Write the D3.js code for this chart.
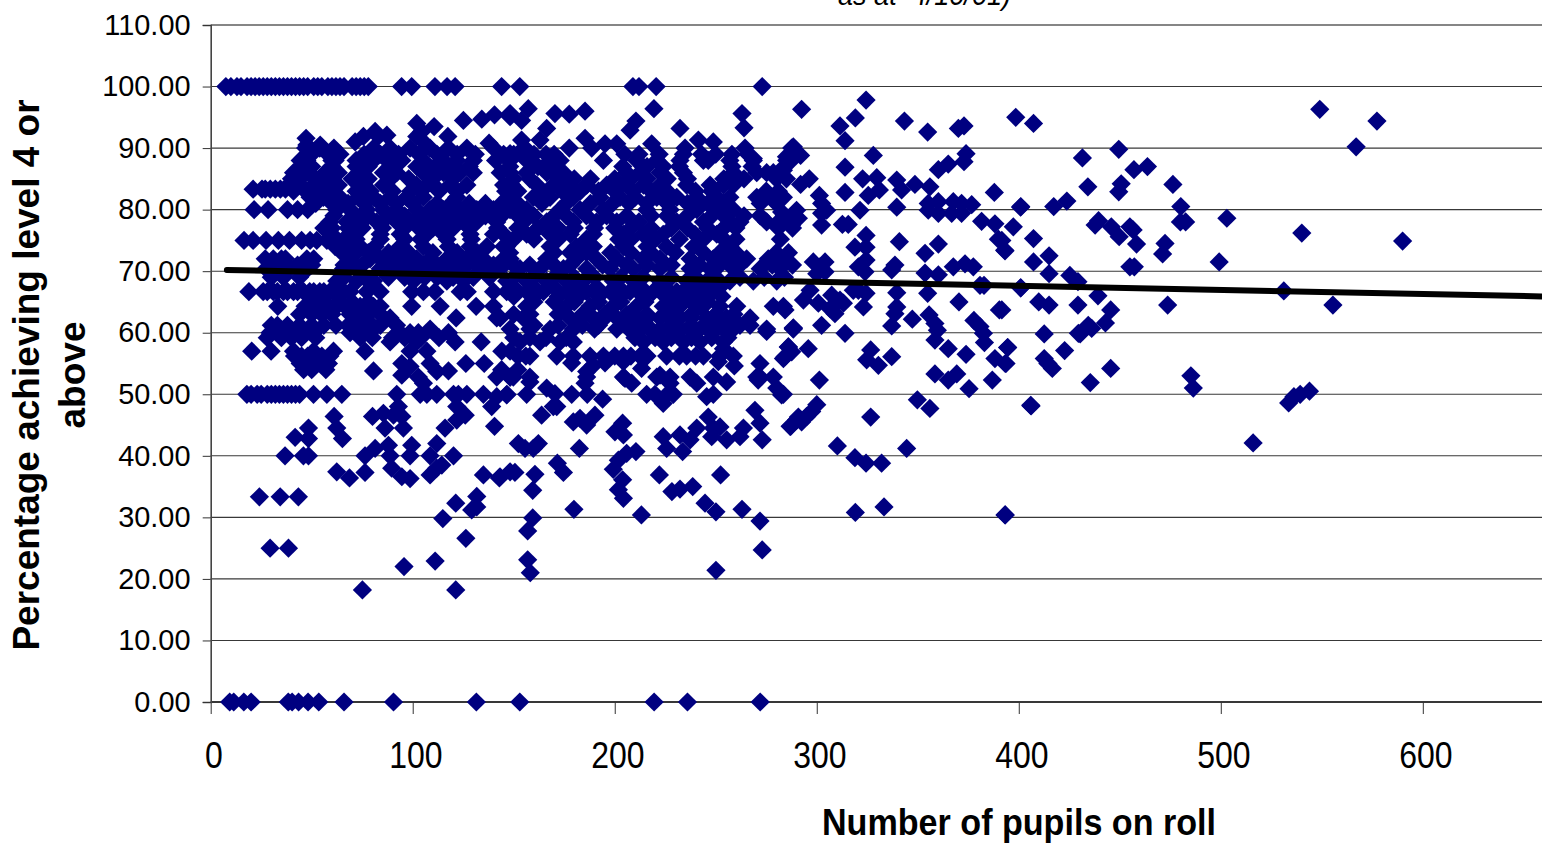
<!DOCTYPE html>
<html>
<head>
<meta charset="utf-8">
<title>Percentage achieving level 4 or above</title>
<script src="https://cdn.jsdelivr.net/npm/d3@7"></script>
<style>
    html, body { margin: 0; background: #fff; overflow: hidden; }
    text { font-family: "Liberation Sans", Arial, sans-serif; fill: #000; white-space: pre; }
</style>
</head>
<body>
<svg id="chart"></svg>
<script>
// Schools sitting on a common percentage: pupils on roll
const at100 = [7.5,10,13,15,18,20,22,24,26,28,30,32,34,36,38,40,42,44,46,48,51,53,55,58,60,62,64,66,70,72,74,76,78,94.5,99.5,111,117,121,144,153,209,212,220.5,273];
const at0 = [9.4,11.4,16.4,20,38.4,40.3,43.5,48.2,53.5,66,90.5,131.5,153,219.5,236,272];
const at83 = [21,25.4,27,29.5,32,34.5,37];
const at80 = [21.5,28.4,38,43,48,62.4,69,77.3,85.5,92.1,102,108.6,115.2,123.5,131.7,140,148.2,156.4,172.9,182.8,194.4,215.8,227.4,240.6,250.5,258.7];
const at75 = [16.5,21,27.4,33.5,39,45,49.2,52.5,57.5,61.5];
const at66 = [18.9,26,28,31,33,36,38,41,43,46,49,51,54,56,59,61,64,66,69,77.3,83.9,99.5,105.3,111,123.5,127,140,146.5,156.4,164.7,176.2,186,197.7,207.6,219.1,230.7,240.6,248.8];
const at60 = [29.4,33.5,37.7,41.8,46.7,50.9,69,73.1,78.9,93.8,98.7,102.8,117.7];
const at50 = [17.9,20,23,25,28,30,32,34,36,38,40,42,44,50.9,57.5,64.9,92.1,103.7,107,111.9,120.2,122.6,126.8,135,146.6,156.4,178.7,186.4,215.8,219.9,229,248.8];
const at40 = [36.8,45.9,48.4,76.4,88.8,98.7,108.6,120.2];
const at33 = [24.1,34.4,43.4];
const at25 = [29.4,38.5];

// Dense middle of the cloud, read band by band
const band90 = [47,54,61,80.6,88.8,98.7,108.6,117.7,126.8,140,155.6,177.5,188.6,234.8,264.5,287.6];
const band89 = [50,58,64,76,84,93,103,112,122,131,145,150,160,166,170,205,212,222,234,243,250,258,266];
const band88 = [44.3,47.6,60,61.6,72,80.6,87.2,94.6,105.3,115.2,121.8,130,141,147.4,148.2,156.4,168,173,194.4,210.9,220.8,232.3,243.9,246.3,257,268.6,285.1];
const band87 = [45,50,60,72,78,90,102,111,119,128,148,162,170,204,214,216,224,232,258,268,284];
const band86 = [41,47.6,56.6,63.2,74,85.5,92.1,105.3,115.2,123.5,130,143.3,148.2,156.4,166.3,174.6,205.9,212.5,222.4,234,258.7,270.3,275.2,278.5,281.8];
const band85 = [40,44,52,59,70,78,89,98,110,120,150,158,172,180,188,200,208,216,226,236,254,264,280,285];
const band84 = [38.5,44.3,50.9,57.5,63.2,75.6,85.5,102,107,110.3,118.5,126.8,145,149,161.4,169.6,177.8,186.1,196,205.9,214.2,222.4,235.6,247.2,253.8,258.7];
const band83 = [41,47,54,60,72,79,90,99,104,113,122,146,152,164,174,183,192,200,209,218,226,240,248,275,281];
const band82 = [49.2,55.8,64,73,80.6,88.8,97,105.3,121.8,148.2,159.7,168,179.5,192.7,202.6,210,220.8,230.7,240.6,250.5,257,270.3,277.7,283.5];
const band81 = [52,60,68,76,84,92,100,112,119,128,136,144,152,164,176,188,199,207,216,226,236,246,254,272,280];
const band79 = [61,72,78,88,96,104,112,120,128,136,144,152,160,170,176,186,196,206,218,226,236,248,254,264,272,284];
const band78 = [59,67.4,72.3,82.2,92.1,98.7,107,115.2,125.1,131.7,141.6,155,166.3,179.5,191,201,212,230.7,243.9,257,262,275.2,281,288.4];
const band77 = [56,60,68,75,85,96,103,110,120,128,142,152,162,172,180,190,200,208,218,228,236,246,254,260,281,288];
const band76 = [60,70.7,83.9,93.8,107,115.2,128.4,140,145,156.4,168,178,189.4,204.3,214,224,239.7,250.5];
const band75 = [66,72,84,96,104,117,129,150,160,172,186,202,208,220,232,244,254,260,282];
const band74 = [61.6,67.4,74,81.4,93.8,105.3,117.7,128.4,136.7,145,146.5,168,181,189.4,204.3,216,225.7,239,257];
const band73 = [65,72,78,88,98,110,122,132,148,170,178,186,198,208,218,230,244,252,260,280,286];
const band72 = [27,31,35,37,47.6,51,69,78.9,83.9,93.8,102,108.6,116.9,126.8,135,145,148.2,166.3,181,191,201,214,222.4,237.3,248.8,257,265.3,276,283.5];
const band71 = [30,33,43,50,66,75,88,97,105,112,122,132,140,150,158,170,178,194,206,216,228,242,252,262,278,288];
const band70 = [27.4,39,48,65.7,72.3,83.9,92.1,102,110.3,116.9,125.1,135,143.3,153.1,163,174.6,186.1,197.7,209.2,222.4,237.3,247.2,258.7,272,281.8];
const band69 = [30,36,44,66,76,88,96,106,112,120,130,138,150,160,170,180,190,203,214,228,240,250,262,274,284];
const band68 = [62.4,72.3,80.6,100.4,116.9,125.1,146.5,156.4,166.3,176.2,184.5,199.3,209.2,222.4,235.6,245.5,257,268.6,280.2];
const band67 = [150,160,170,181,191,202,213,225,236,244,252];
const band66 = [150,160,172,182,192,203,214,225,236,245,253];
const band65 = [50,56,63,70,78,160,170,180,192,203,215,228,238,246];
const band64 = [33.2,46.7,52.5,57.5,62.4,66.5,74,80.6,83.9,99.5,113.6,131.4,140,156.4,176.2,187.8,199.3,210.9,224,232.3,242.2,252,260.4,278.5,283.5];
const band63 = [44,50,55,60,69,72,78,84,150,158,172,184,195,206,216,228,238,250,259];
const band62 = [71.5,76.4,88.8,121.5,141.6,143.3,154.8,177.8,183,189.4,195,201,205,210.9,216,222.4,227,232.3,238,245.5,250,255.4,267];
const band61 = [30,33,38,44,50,56,62,68,74,80,84,92,160,172,184,192,206,216,228,238,246,254,262];
const band60 = [108.6,148.2,158,168,179.5,190,201,207,212.5,217,222.4,227,232.3,237,242.2,246,250.5,254,258.7,275.2,288.4];
const band59 = [28,35,40,45,52,74,80,90,96,104,113,150,158,166,176,210,220,228,238,248,256];
const band58 = [88.8,102,121,133.9,153.1,163,172.9,179.5,214.2,224,234,242.2,253.8];
const band57 = [20.3,29.9,41,50.9,60.8,76.4,98.7,107,144.1,148.2];
const band56 = [41.5,45,48,52,55,59,152,156,158,171.3,179.5,187.8,194.4,200,204.3,208,212.5,216,225.7,232,235.6,240,243.9,252,258.7];
const band55 = [44.3,47.6,55,56.6,58.3,94.6,108.6,126.3,135.4];
const band54 = [46,50,57,144,152];
const band53 = [148.2,158,186.1,204.3,220.8,227.4,237.3,248.8,271.9,270.3,278.5];

// Schools that stand clear of the rows, as [pupils, percentage]
const scattered = [
    [398.5,95],[407.3,94],[431.5,88.4],[449.5,89.8],[457,86.5],[463.7,87],[434.2,83.7],[450.7,84.2],[449.5,82.9],[476.3,84.1],
    [480.2,80.5],[480,78],[482.6,78],[503,78.6],[401,80.5],[417.3,80.5],[423.8,81.4],[397.3,77.2],[407.3,75.3],[415,72.5],
    [407.3,71.5],[415,69.6],[401,67.3],[393,73.4],[391.6,75],[437.8,77.5],[439.5,78.2],[445.8,77.2],[449.7,75.6],[455,77.2],
    [456.6,76.7],[458.3,74.4],[455,70.7],[457.2,70.7],[472.4,74.5],[471.2,72.8],[499.2,71.5],[540.1,76.2],[590,74.9],[549,96.3],
    [577.3,94.4],[567,90.2],[531.2,66.8],[555.5,64.5],[473.7,64.5],[425.3,69.3],[429.3,68.3],[439.2,66],[409.9,65],[415,64.5],
    [429.3,64.5],[445.5,63.7],[442.9,61.6],[391.6,63.7],[434.4,61.2],[436.1,60.7],[430.4,59.8],[412.6,59.8],[394.5,57.6],[393.3,55],
    [412.6,55.8],[416.6,54.2],[414.4,55],[422.7,57.1],[445.5,54.2],[435.4,51.9],[485.2,53],[486.4,51],[406.1,48.1],[533.6,48.6],
    [536.2,49.6],[539.3,50],[543.9,50.5],[516,42.1],[393.3,30.4],
    [292.5,96.3],[324.4,97.8],[311.5,93.6],[319.1,94.9],[314,91.2],[343.4,94.4],[354.9,92.6],[370.1,93.2],[372.9,93.6],
    [288.4,90.2],[292,88.8],[285,88.6],[286.8,87.8],[283.5,86.4],[328,88.8],[314,86.9],[296.3,85],[292,84.1],[322.7,85],
    [329.7,85.2],[325.5,82.3],[331,83.2],[314,82.8],[339.6,84.8],[342,83.2],[348.6,84.1],[356,83.7],[373.9,89.1],[372.9,87.8],
    [365.1,87.4],[360.2,86.5],[387.9,82.8],[400.9,80.4],[339.6,80.4],[355.2,81],[355.2,79.9],[360.2,81.3],[360.2,79.4],[367.6,81.3],
    [366.8,79.4],[371.7,79.4],[371.7,81],[376.7,80.8],[381.6,78.1],[388.2,77.7],[389.9,75.2],[393.2,73.3],[301.3,82.3],[302.4,81],
    [304.9,79.9],[302.4,79.4],[302.4,77.5],[321.4,79.9],[312.7,77.6],[315.6,77.6],[290,79.9],[290.9,78.6],[287.6,77.5],[282.6,79.6],
    [324.4,75.8],[318.9,73.9],[324.4,73.9],[324.4,71.8],[320.6,70.7],[323.9,69.9],[340.9,74.8],[338.7,71],[337.1,70.2],[360.2,74.4],
    [353.6,72.9],[353.6,69.7],[360.2,69.4],[367.6,70.7],[373.4,71.2],[377.5,70.7],[380.8,67.7],[382.8,67.7],[400.9,67.3],[298.3,71.5],
    [304.1,71.5],[301.6,70.7],[304.1,69.9],[300,69.6],[296.7,66.9],[293.4,65.3],[300.8,64.8],[307.4,66.1],[311.5,65.3],[309,63.1],
    [306.6,63.9],[313.2,64.8],[318.1,66.9],[320.6,66.9],[324.4,66.4],[323.1,64.2],[339.6,66.5],[339.6,64.2],[338.7,63.1],[337.1,61.1],
    [354.9,66.4],[370.4,65],[390.4,63.7],[347.3,62.2],[355.6,62.9],[358.5,61.5],[377.8,62],[380.8,61],[382.5,59.9],[284.3,63.7],
    [288.4,60.8],[302.4,61.2],[314,59.9],[429.5,59.9],[359.7,60.4],[358.5,58.8],[365.1,57.4],[373.9,56.5],[383,58.4],[394.5,57.6],
    [388.2,55.8],[393.7,55],[295.8,57.4],[285.9,57.7],[287.6,56.9],[284.3,56.1],[326.7,57.2],[324.7,55.6],[330.5,54.7],[337.1,56.1],
    [301.3,52.3],[358.5,53.3],[365.1,52.3],[369.3,53.3],[375.4,50.9],[386.9,52.3],[349.8,49.1],[356,47.7],[405.9,48.2],[326.7,46.3],
    [300,48.3],[297.5,47.2],[295,46.4],[292.5,45.5],[290,45.8],[286.8,44.8],[283.5,50],[310.2,41.6],[318.9,39.7],[324.4,38.8],
    [332.1,38.8],[344.5,41.2],[319.1,30.8],[333.3,31.7],[393.2,30.4],
    [250.1,21.4],[273,24.7],[271.9,29.4],[263,31.3],[250.1,30.9],[244.7,32.3],[252.4,36.9],[222.1,36.9],[228.3,34.2],[232.3,34.6],
    [238.6,35],[213.2,30.4],[179.8,31.3],[159.4,34.4],[160.5,37],[159.4,29.9],[156.9,27.8],[156.9,23.1],[158.2,21],[150.6,37.3],
    [143.2,36.6],[171.6,38.8],[174.6,37.3],[152.3,42],[155.6,41.2],[159.7,41.2],[162.2,42],[182.5,41.2],[203.9,45.3],[200.1,43.9],
    [204.3,43.4],[199.3,37.8],[201.8,39.3],[205.9,40.4],[210.5,40.7],[203.9,36.1],[201.8,34.5],[204.3,33.1],[224,43.1],[225.7,41.2],
    [232.3,43.4],[233.6,40.7],[237.3,42.6],[240.6,44.5],[246.3,46.3],[248.8,44.5],[252.1,44.7],[248,43.1],[255.4,42.6],[262,43.1],
    [263.7,44.5],[269.4,47.4],[271.9,45.3],[273,42.6],[287.1,44.8],[290.9,46.3],[163.8,46.6],[169.6,48],[171.3,48],[166.3,51],
    [170.4,50.1],[158,52],[146.5,49.9],[149.8,52.8],[194,49.2],[179.5,45.5],[182.8,46.1],[186.1,45],[190.2,46.6],[185.3,51.8],
    [186.1,53.7],[189.4,54.7],[195.2,55.1],[178.7,55.1],[204.3,55.3],[205.1,52.6],[208.4,51.8],[213.3,54.2],[222.4,53.1],[227.4,51.8],
    [225.7,49.9],[224,48.5],[240.6,51.8],[245.5,49.6],[255.4,52],[251.3,55.3],[259.2,54.6],[253.8,57.4],[271.9,55],[271,52.3],
    [283.5,55.8],[286,57.7],[280.2,51],[282.6,49.9],[267,61.2],[275.2,60.2],[288.4,60.7],
    [75.1,18.2],[121.3,18.2],[95.7,22],[111.1,22.9],[126.3,26.6],[114.9,29.8],[121.3,32.3],[129.2,31.2],[131.7,33.4],[131.7,31.7],
    [41.8,43],[48.4,44.5],[48.4,42.8],[61.1,46.4],[62.4,44.5],[65.2,42.8],[62.4,37.4],[68.7,36.4],[76.4,37.3],[81.4,41.2],
    [88,41.7],[86.3,44.5],[80.1,46.4],[85.5,46.9],[92.9,48],[94.6,46.4],[90.5,46.6],[95.4,44.5],[89.6,38],[94.6,36.6],
    [98.7,36.3],[99.5,41.7],[111.9,42],[108.6,36.9],[111.9,38],[114.4,38.5],[116,44.5],[121.8,45.8],[126,46.6],[121.8,48],
    [135,36.9],[142.9,36.4],[148.2,37.4],[140.5,44.8],[139.1,48],[141.6,49.6],[102.8,52.8],[105.3,51.8],[98.7,54.5],[94.6,53.1],
    [80.6,53.8],[111.9,53.7],[117.7,53.8],[141.6,52.8],[148.2,52.8],[75.6,91.9],[71.5,91],[81.4,92.7],[87.2,92.1],[83,91.9],
    [102,94],[110.6,93.5],[104.5,92.7],[125.1,94.5],[134.2,94.7],[140.5,95.4],[148.2,95.1],[137.8,90.8],[117.4,91.9],[102,91.9],
    [105.3,91],[47.2,91.6],[47.6,90.5],[54.2,90.5],[148.2,95.6],[157.2,96.4],[153.9,94.5],[170.4,95.6],[177.5,95.5],[185.3,96],
    [210.5,94.4],[207.6,92.9],[219.4,96.4],[232.3,93.2],[263,95.6],[264,93.3],[166.3,93.2],[163,91.3],[153.9,91.3],[148.2,89.1],
    [153.1,89.4],[185.3,91.6],[195.2,90.7],[201,90.7],[218.3,90.7],[241.4,91.3],[248.8,91],[268.6,88.3]
];

// Fitted trend line end points
const trendPupils = [8, 659];
const trendPercent = [70.2, 65.9];

const xTicks = [0, 100, 200, 300, 400, 500, 600];
const yTicks = [0, 10, 20, 30, 40, 50, 60, 70, 80, 90, 100, 110];

const rows = [
    [100, at100], [0, at0], [83.33, at83], [80, at80], [75, at75], [66.67, at66], [60, at60], [50, at50], [40, at40], [33.33, at33], [25, at25],
    [90, band90], [89, band89], [88, band88], [87, band87], [86, band86], [85, band85], [84, band84], [83, band83], [82, band82], [81, band81],
    [79, band79], [78, band78], [77, band77], [76, band76], [75.2, band75], [74, band74], [73, band73], [72, band72], [71, band71], [70.4, band70],
    [69, band69], [68.4, band68], [67.4, band67], [65.9, band66], [65, band65], [64.3, band64], [63, band63], [62.4, band62], [61.2, band61],
    [60.6, band60], [59.2, band59], [58.5, band58], [57, band57], [56.2, band56], [55, band55], [54, band54], [52.8, band53]
];
const schools = rows.flatMap(([percent, list]) => list.map((pupils) => [pupils, percent])).concat(scattered);

const width = 1542;
const height = 845;
const svg = d3.select("#chart").attr("width", width).attr("height", height);

const x = d3.scaleLinear().domain([0, 659]).range([210.7, 1542]);
const y = d3.scaleLinear().domain([0, 110]).range([702, 25]);

// Horizontal gridlines
svg.append("g")
    .selectAll("line")
    .data(yTicks)
    .join("line")
    .attr("x1", x(0))
    .attr("x2", width)
    .attr("y1", (d) => y(d))
    .attr("y2", (d) => y(d))
    .attr("stroke", "#222")
    .attr("stroke-width", (d) => (d === 0 || d === 110 ? 2 : 1.1))
    .attr("stroke-opacity", (d) => (d === 110 ? 0.55 : 0.9));

// Axes
const xAxis = svg.append("g")
    .attr("transform", `translate(0,${y(0)})`)
    .call(d3.axisBottom(x).tickValues(xTicks).tickSize(12).tickFormat(d3.format("d")));
const yAxis = svg.append("g")
    .attr("transform", `translate(${x(0)},0)`)
    .call(d3.axisLeft(y).tickValues(yTicks).tickSize(8).tickFormat(d3.format(".2f")));

xAxis.select(".domain").remove();
yAxis.select(".domain").attr("stroke", "#444").attr("stroke-width", 1.6);
xAxis.selectAll("line").attr("stroke", "#333");
yAxis.selectAll("line").attr("stroke", "#333");

xAxis.selectAll("text")
    .attr("font-size", 37)
    .attr("y", 0)
    .attr("dy", 66.5)
    .attr("x", 3)
    .attr("transform", "scale(0.865,1)");
yAxis.selectAll("text")
    .attr("font-size", 29.5)
    .attr("x", -20.6)
    .attr("dy", 9.2)
    .attr("transform", "scale(0.98,1)");

// School markers, drawn as squares turned on their corner
const diamond = d3.symbol().type(d3.symbolSquare).size(185);
svg.append("g")
    .selectAll("path")
    .data(schools)
    .join("path")
    .attr("d", diamond)
    .attr("fill", "#000080")
    .attr("transform", (d) => `translate(${x(d[0])},${y(d[1])}) rotate(45)`);

// Trend line
svg.append("path")
    .datum(d3.zip(trendPupils, trendPercent))
    .attr("fill", "none")
    .attr("stroke", "#000")
    .attr("stroke-width", 6)
    .attr("stroke-linecap", "round")
    .attr("d", d3.line().x((d) => x(d[0])).y((d) => y(d[1])));

// Chart title, cut off by the top of the picture as in the source
svg.append("text")
    .attr("x", 838)
    .attr("y", 5)
    .attr("font-size", 29)
    .attr("font-style", "italic")
    .attr("textLength", 173)
    .attr("lengthAdjust", "spacingAndGlyphs")
    .text("as at  4/10/01)");

// Axis titles
svg.append("text")
    .attr("x", 822)
    .attr("y", 835)
    .attr("font-size", 37)
    .attr("font-weight", "bold")
    .attr("textLength", 394)
    .attr("lengthAdjust", "spacingAndGlyphs")
    .text("Number of pupils on roll");

const yTitle = svg.append("text")
    .attr("transform", "translate(0,375) rotate(-90)")
    .attr("text-anchor", "middle")
    .attr("font-size", 37)
    .attr("font-weight", "bold");
yTitle.append("tspan").attr("x", 0).attr("y", 39).text("Percentage achieving level 4 or");
yTitle.append("tspan").attr("x", 0).attr("y", 85).text("above");
</script>
</body>
</html>
